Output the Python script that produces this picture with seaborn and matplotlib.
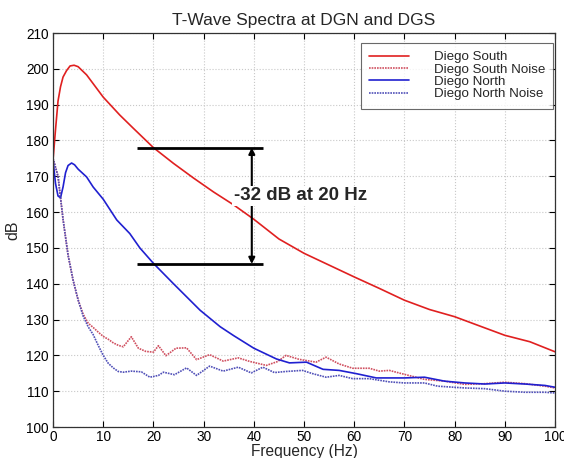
import matplotlib
matplotlib.use("Agg")
import matplotlib.pyplot as plt
import seaborn as sns
import numpy as np

# ---- data ----
south_f = [0, 0.5, 1, 1.5, 2, 2.7, 3.4, 4.2, 5, 6.7, 10, 13.3, 16, 20, 24, 28, 32, 36, 40,
           45, 50, 55, 60, 65, 70, 75, 80, 85, 90, 95, 100]
south_db = [174.5, 183, 191, 195, 197.7, 199.5, 200.8, 201, 200.6, 198.3, 192.1, 187.1, 183.4,
            178, 173.6, 169.5, 165.6, 162, 158.0, 152.5, 148.5, 145.2, 141.9, 138.7, 135.4,
            132.8, 130.8, 128.2, 125.6, 123.8, 121.0]

south_noise_f = [0, 1, 2, 3, 4, 5, 6, 7, 8, 9, 10, 11, 12, 13, 14, 15.6, 17, 18.5, 20, 21,
                 22.5, 24.5, 26.6, 28.6, 31.2, 33.9, 36.9, 39.2, 42.5, 44.8, 46.4, 49, 52.4,
                 54.4, 57, 59.7, 63, 65, 67, 70, 74, 78, 82, 86, 90, 94, 98, 100]
south_noise_db = [175, 170, 158, 148, 141, 135.5, 131.5, 129, 127.8, 126.5, 125.3, 124.5,
                  123.5, 122.8, 122.4, 125.2, 122, 121.1, 120.9, 122.7, 119.9, 122.0, 122.1,
                  118.8, 120.2, 118.4, 119.3, 118.3, 117.2, 118.3, 120, 118.9, 118.1, 119.5,
                  117.6, 116.4, 116.4, 115.6, 115.8, 114.7, 113.3, 112.8, 111.9, 112.1, 112.5,
                  112.1, 111.4, 110.9]

north_f = [0, 0.5, 1, 1.5, 2, 2.5, 3, 3.7, 4.3, 5, 6.7, 8, 10, 12.7, 15.3, 17.3, 20, 24,
           29.3, 33.3, 36, 40, 44.5, 47.1, 50.5, 53.8, 57, 60.4, 64.4, 70, 74, 78, 82, 86,
           90, 94, 98, 100]
north_db = [174.5, 168, 164.5, 164, 167, 171, 173, 173.7, 173.2, 172, 169.8, 167, 163.6,
            157.8, 154, 150, 145.7, 140, 132.6, 128, 125.5, 122, 119, 117.9, 118.1, 116.1,
            115.8, 114.9, 113.7, 113.7, 113.9, 112.8, 112.3, 112, 112.3, 112, 111.6, 111.1]

north_noise_f = [0, 1, 2, 3, 4, 5, 6, 7, 8, 9, 10, 11, 12, 13, 14, 15.6, 17.6, 19.3, 21, 22,
                 24.2, 26.6, 28.6, 31.2, 33.9, 36.9, 39.5, 41.8, 44.1, 46.4, 49.7, 51.7, 54.4,
                 57, 59.7, 63, 67, 70, 74, 76.6, 82, 86, 90, 94, 98, 100]
north_noise_db = [175, 170, 158, 148, 141, 135.5, 131, 128, 125.8, 122.8, 120, 117.8, 116.5,
                  115.5, 115.3, 115.6, 115.4, 113.9, 114.4, 115.3, 114.6, 116.5, 114.4, 117,
                  115.6, 116.7, 115.1, 116.7, 115.2, 115.5, 115.8, 114.9, 113.9, 114.4, 113.5,
                  113.5, 112.6, 112.3, 112.3, 111.4, 110.9, 110.7, 110, 109.7, 109.7, 109.5]

labels = ["Diego South", "Diego South Noise", "Diego North", "Diego North Noise"]
x_ticks = list(range(0, 101, 10))
y_ticks = list(range(100, 211, 10))
bracket_top, bracket_bottom = 178, 145.5
annot_text = "-32 dB at 20 Hz"
title = "T-Wave Spectra at DGN and DGS"

# ---- figure ----
sns.set_style("white")
plt.rcParams['font.family'] = ['Liberation Sans', 'DejaVu Sans']

fig = plt.figure(figsize=(5.64, 4.58), dpi=100)
ax = fig.add_axes([53 / 564, 31 / 458, (555 - 53) / 564, (427 - 33) / 458])

sns.lineplot(x=south_f, y=south_db, ax=ax, color="#e02020", lw=1.2, label=labels[0],
             estimator=None, sort=False)
sns.lineplot(x=south_noise_f, y=south_noise_db, ax=ax, color="#d05060", lw=1.2,
             linestyle=(0, (1, 0.6)), label=labels[1], estimator=None, sort=False)
sns.lineplot(x=north_f, y=north_db, ax=ax, color="#2020d0", lw=1.2, label=labels[2],
             estimator=None, sort=False)
sns.lineplot(x=north_noise_f, y=north_noise_db, ax=ax, color="#5050b8", lw=1.2,
             linestyle=(0, (1, 0.6)), label=labels[3], estimator=None, sort=False)

ax.set_xlim(0, 100)
ax.set_ylim(100, 210)
ax.set_xticks(x_ticks)
ax.set_yticks(y_ticks)
ax.grid(True, color="#c8c8c8", linestyle=":", linewidth=0.8)
ax.tick_params(direction="in", length=4, width=0.8, labelsize=9.8, pad=3,
               top=True, right=True, bottom=True, left=True, colors="black")
ax.tick_params(axis="x", pad=2)
for s in ax.spines.values():
    s.set_color("#333333")
    s.set_linewidth(0.9)

ax.set_xlabel("Frequency (Hz)", fontsize=11.2)
ax.xaxis.set_label_coords(0.5, -17 / 394)
ax.xaxis.label.set_va("top")
ax.set_ylabel("dB", fontsize=11.5, labelpad=4)
ax.set_title(title, fontsize=12.5, pad=6)

# annotation bracket
ax.hlines([bracket_top, bracket_bottom], 16.7, 41.9, color="black", lw=2)
ax.annotate("", xy=(39.6, bracket_top), xytext=(39.6, bracket_bottom),
            arrowprops=dict(arrowstyle="<|-|>", color="black", lw=1.5,
                            mutation_scale=9, shrinkA=0, shrinkB=0))
ax.text(36.0, 164.5, annot_text, fontsize=13.5, fontweight="bold", va="center", ha="left",
        bbox=dict(facecolor="white", edgecolor="none", pad=1))

leg = ax.legend(loc="upper right", bbox_to_anchor=(0.997, 0.975), frameon=True,
                fontsize=9.6, handlelength=3.0, handletextpad=1.85, labelspacing=0.0,
                borderpad=0.62, fancybox=False, borderaxespad=0.0)
leg.get_frame().set_edgecolor("#444444")
leg.get_frame().set_linewidth(0.8)

fig.savefig("out.png", dpi=100)
